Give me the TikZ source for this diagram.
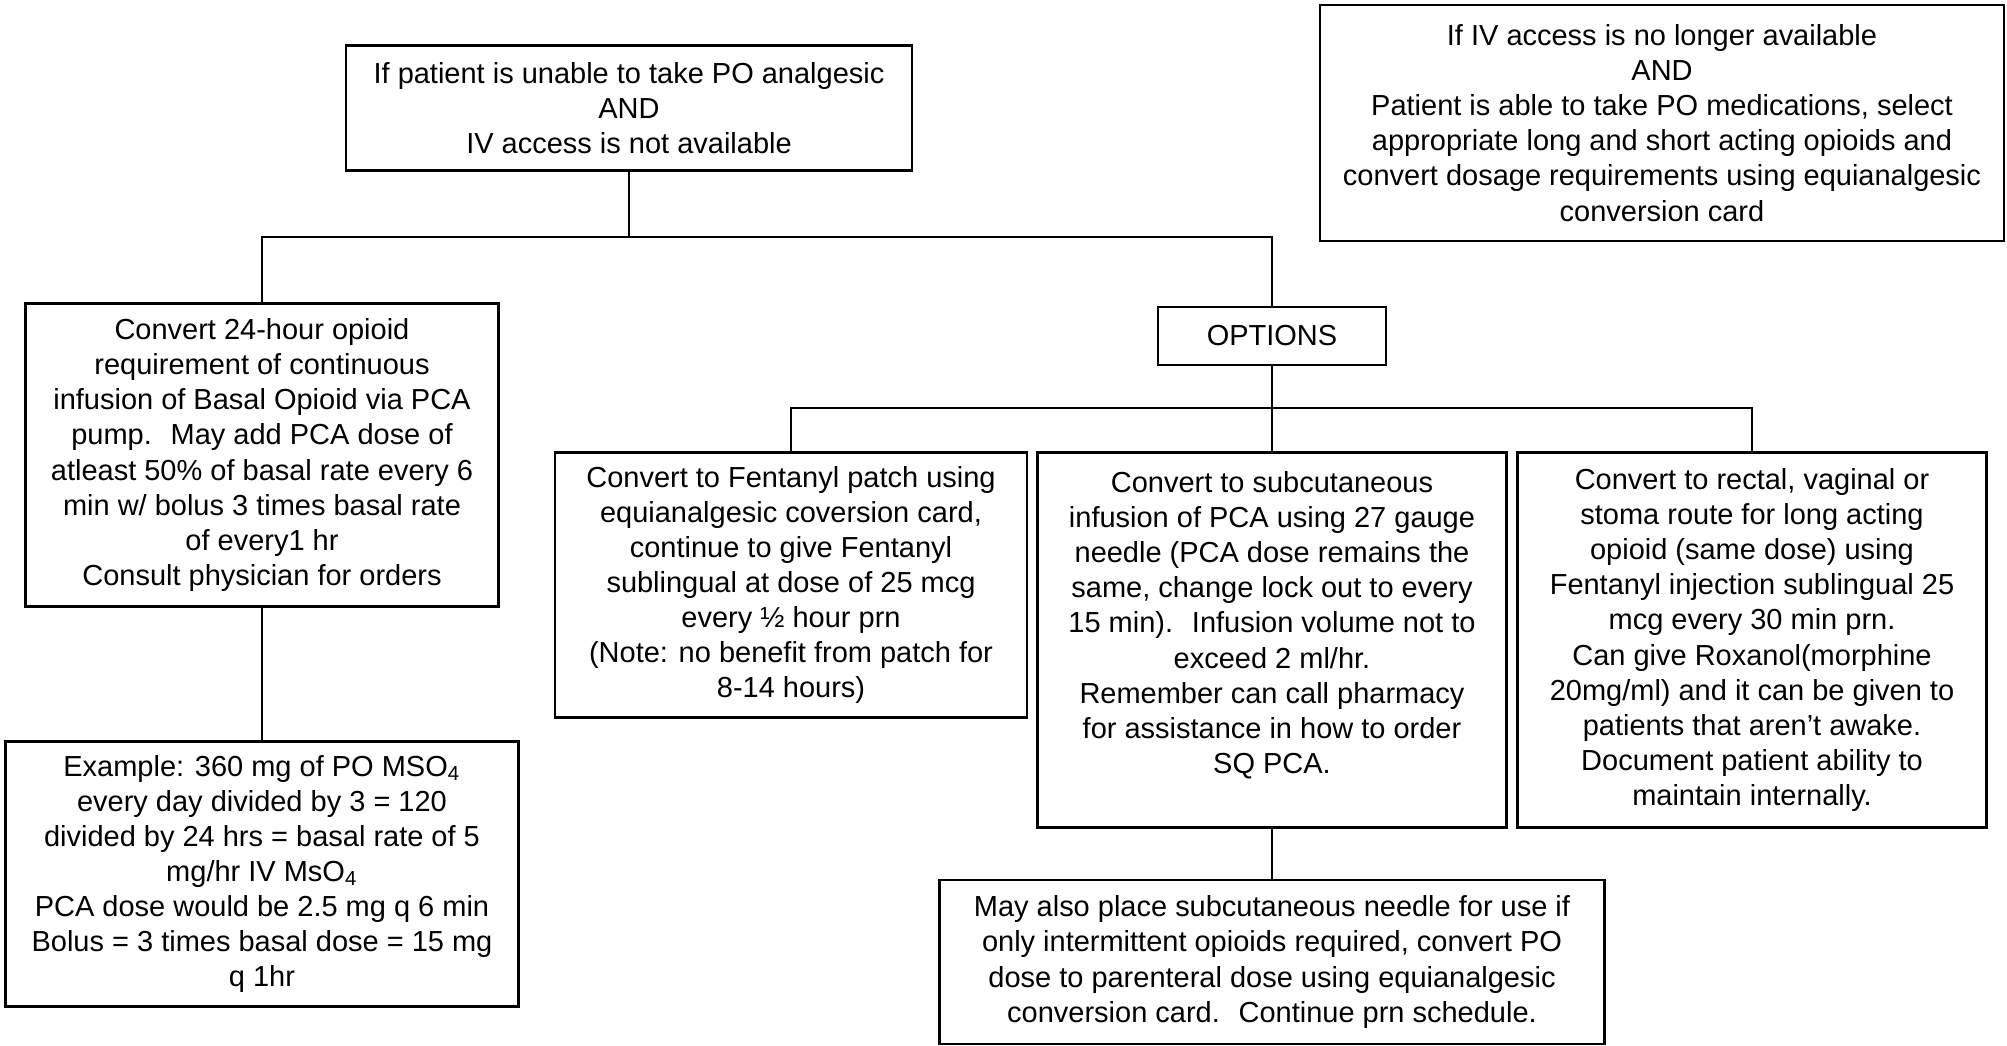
\documentclass[tikz,border=0pt]{standalone}
\usepackage{fontspec}
\setmainfont{Liberation Sans}
\newcommand{\pxu}{0.345pt}

\begin{document}
\begin{tikzpicture}[x=0.345pt, y=-0.345pt, line width=0.7pt,
  every node/.style={font=\fontsize{10}{12.1}\selectfont, align=center, inner sep=0pt},
  box/.style={draw, rectangle, line width=0.8pt}]
\useasboundingbox (0,0) rectangle (2007,1046);
\begin{scope}
\node[box, minimum width=566*\pxu, minimum height=125*\pxu] (1) at (629,108) {If patient is unable to take PO analgesic\\AND\\IV access is not available};
\node[box, minimum width=684*\pxu, minimum height=236*\pxu] (2) at (1662,123) {If IV access is no longer available\\AND\\Patient is able to take PO medications, select\\appropriate long and short acting opioids and\\convert dosage requirements using equianalgesic\\conversion card};
\node[box, minimum width=473*\pxu, minimum height=303*\pxu] (3) at (262,455) {Convert 24-hour opioid\\requirement of continuous\\infusion of Basal Opioid via PCA\\pump.~ May add PCA dose of\\atleast 50\% of basal rate every 6\\min w/ bolus 3 times basal rate\\of every1 hr\\Consult physician for orders};
\node[box, minimum width=228*\pxu, minimum height=58*\pxu] (4) at (1272,336) {OPTIONS};
\node[box, minimum width=472*\pxu, minimum height=265*\pxu] (5) at (791,585) {Convert to Fentanyl patch using\\equianalgesic coversion card,\\continue to give Fentanyl\\sublingual at dose of 25 mcg\\every ½ hour prn\\(Note: no benefit from patch for\\8-14 hours)};
\node[box, minimum width=469*\pxu, minimum height=375*\pxu] (6) at (1272,640) {Convert to subcutaneous\\infusion of PCA using 27 gauge\\needle (PCA dose remains the\\same, change lock out to every\\15 min).~ Infusion volume not to\\exceed 2 ml/hr.\\Remember can call pharmacy\\for assistance in how to order\\SQ PCA.\\\mbox{}};
\node[box, minimum width=469*\pxu, minimum height=375*\pxu] (7) at (1752,640) {Convert to rectal, vaginal or\\stoma route for long acting\\opioid (same dose) using\\Fentanyl injection sublingual 25\\mcg every 30 min prn.\\Can give Roxanol(morphine\\20mg/ml) and it can be given to\\patients that aren’t awake.\\Document patient ability to\\maintain internally.};
\node[box, minimum width=513*\pxu, minimum height=265*\pxu] (8) at (262,874) {Example: 360 mg of PO MSO\textsubscript{4}\\every day divided by 3 = 120\\divided by 24 hrs = basal rate of 5\\mg/hr IV MsO\textsubscript{4}\\PCA dose would be 2.5 mg q 6 min\\Bolus = 3 times basal dose = 15 mg\\q 1hr};
\node[box, minimum width=665*\pxu, minimum height=164*\pxu] (9) at (1272,962) {May also place subcutaneous needle for use if\\only intermittent opioids required, convert PO\\dose to parenteral dose using equianalgesic\\conversion card.~ Continue prn schedule.};
\coordinate (a) at (629,237);
\coordinate (b) at (1272,408);
\path[draw] (1) -- (a);
\path[draw] (3) |- (a) -| (4);
\path[draw] (4) -- (b);
\path[draw] (5) |- (b) -| (7);
\path[draw] (b) -- (6);
\path[draw] (3) -- (8);
\path[draw] (6) -- (9);
\end{scope}
\end{tikzpicture}
\end{document}
